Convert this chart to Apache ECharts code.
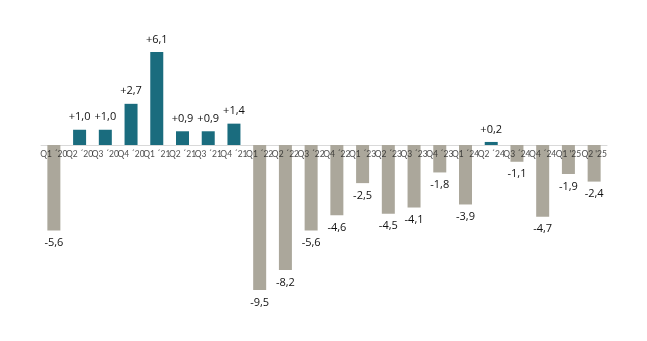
<!DOCTYPE html>
<html><head><meta charset="utf-8">
<script src="https://cdn.jsdelivr.net/npm/echarts@6/dist/echarts.min.js"></script>
<style>html,body{margin:0;padding:0;background:#fff}#c{width:647px;height:341px}</style>
</head><body><div id="c"></div>
<script>
const categories = ["Q1 ´20","Q2 ´20","Q3 ´20","Q4 ´20","Q1 ´21","Q2 ´21","Q3 ´21","Q4 ´21","Q1 ´22","Q2 ´22","Q3 ´22","Q4 ´22","Q1 ´23","Q2 ´23","Q3 ´23","Q4 ´23","Q1 ´24","Q2 ´24","Q3 ´24","Q4 ´24","Q1 '25","Q2 '25"];
const values = [-5.6,1.0,1.0,2.7,6.1,0.9,0.9,1.4,-9.5,-8.2,-5.6,-4.6,-2.5,-4.5,-4.1,-1.8,-3.9,0.2,-1.1,-4.7,-1.9,-2.4];
const TEAL = '#1a6c7e', GREY = '#aba79b';
const fmt = v => (v > 0 ? '+' : '') + v.toFixed(1).replace('.', ',');
const chart = echarts.init(document.getElementById('c'), null, {renderer:'canvas'});
chart.setOption({
  animation:false,
  grid:{left:41, right:40, top:38.25, bottom:43.5},
  xAxis:{type:'category', data:categories,
    axisLine:{onZero:true, lineStyle:{color:'#d9d9d9', width:1}},
    axisTick:{show:false},
    axisLabel:{show:false}
  },
  yAxis:{type:'value', min:-10, max:7, show:false, splitLine:{show:false}},
  series:[{type:'bar', barWidth:13,
    data: values.map(v => ({value:v, itemStyle:{color: v>0?TEAL:GREY},
      label:{show:true, position: v>0?'top':'bottom', distance:7, formatter: () => fmt(v),
        color:'#111', fontSize:11, fontFamily:'Open Sans'}}))
  },{type:'scatter', symbolSize:0, z:10, silent:true,
    data: categories.map(c => [c, 0]),
    label:{show:true, position:'bottom', distance:5, formatter: p => p.data[0],
      color:'#222', fontSize:8.5, fontFamily:'Lato'}
  }]
});
</script></body></html>
